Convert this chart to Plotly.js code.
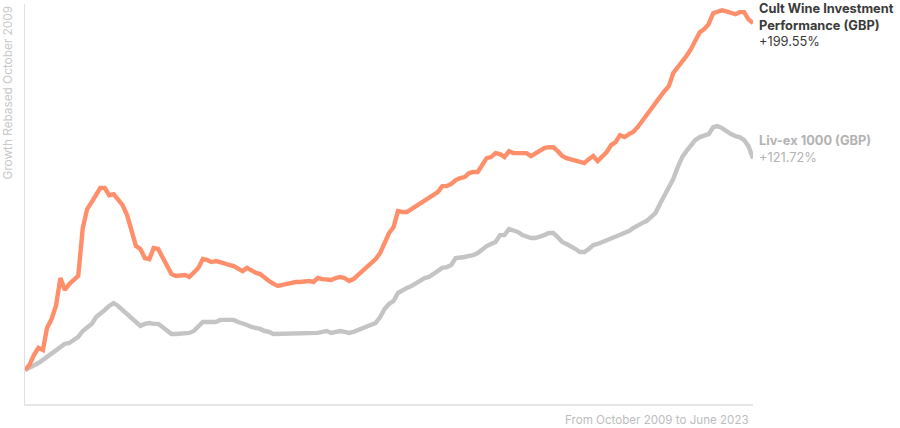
<!DOCTYPE html>
<html>
<head>
<meta charset="utf-8">
<script src="https://cdn.plot.ly/plotly-3.0.1.min.js"></script>
<style>
  html, body { margin: 0; padding: 0; background: #ffffff; }
  #chart { width: 900px; height: 428px; }
</style>
</head>
<body>
<div id="chart"></div>
<script>
// Monthly growth (%) rebased to October 2009 = 0, through June 2023
const startYear = 2009;
const startMonth = 10;

const cultWine = [
  0, 2.9, 8.6, 12.7, 11.5, 24.2, 29.3, 36.8, 52.9, 46.0,
  49.5, 51.8, 54.1, 81.7, 92.6, 96.6, 100.6, 104.7, 104.7, 100.6,
  101.2, 98.3, 94.9, 89.1, 79.4, 71.3, 69.6, 64.4, 63.8, 70.2,
  69.6, 64.4, 59.2, 55.2, 54.1, 54.1, 54.6, 53.5, 55.8, 58.7,
  63.8, 63.3, 62.1, 62.7, 62.1, 61.0, 60.4, 59.8, 58.7, 56.9,
  58.7, 56.9, 55.8, 55.2, 52.9, 51.2, 49.5, 48.3, 48.9, 49.5,
  50.0, 50.6, 50.6, 51.2, 51.2, 50.6, 52.9, 52.3, 52.3, 51.8,
  52.9, 53.5, 52.9, 51.2, 52.3, 54.6, 56.4, 58.7, 61.5, 63.8,
  67.3, 73.6, 78.8, 82.2, 91.4, 90.9, 90.9, 92.6, 94.3, 95.5,
  97.2, 98.9, 101.2, 102.4, 105.8, 105.8, 107.0, 109.3, 110.4, 111.0,
  113.3, 113.9, 113.9, 117.9, 121.9, 122.5, 124.8, 124.2, 122.5, 125.9,
  124.8, 124.8, 124.8, 124.8, 123.1, 124.8, 125.9, 127.7, 128.2, 128.2,
  125.9, 123.1, 121.9, 121.3, 120.8, 120.2, 119.0, 121.3, 123.1, 120.2,
  122.5, 125.4, 129.4, 131.1, 135.1, 134.0, 135.7, 136.9, 139.7, 143.2,
  146.1, 149.5, 153.5, 157.6, 160.4, 163.3, 170.8, 174.2, 177.1, 180.6,
  184.6, 189.8, 194.4, 196.1, 199.0, 205.3, 206.4, 207.0, 206.4, 205.3,
  204.7, 205.9, 205.9, 201.8, 199.55
];

const livex = [
  0, 1.2, 2.3, 4.0, 5.8, 7.5, 9.2, 10.9, 13.2, 15.0,
  15.5, 17.3, 19.0, 22.4, 24.7, 26.5, 30.5, 32.2, 34.5, 36.8,
  38.5, 36.8, 34.5, 31.6, 29.9, 27.0, 25.3, 26.5, 27.0, 26.5,
  26.5, 24.7, 22.4, 20.7, 20.7, 20.7, 21.3, 21.3, 22.4, 24.7,
  27.6, 27.6, 27.6, 27.6, 28.8, 28.8, 28.8, 28.8, 27.6, 27.0,
  25.9, 24.7, 24.2, 23.6, 22.4, 21.9, 20.7, 20.7, 20.7, 20.7,
  20.7, 21.3, 21.3, 21.3, 21.3, 21.3, 21.3, 21.9, 22.4, 21.3,
  21.9, 22.4, 21.9, 21.3, 21.9, 23.0, 24.2, 25.3, 26.5, 27.0,
  30.5, 35.1, 38.0, 39.7, 44.3, 46.0, 47.2, 48.3, 50.0, 51.2,
  52.9, 53.5, 55.2, 56.4, 58.7, 59.2, 60.4, 64.4, 64.4, 65.0,
  65.6, 66.1, 67.3, 69.6, 71.3, 72.5, 73.6, 77.6, 77.6, 81.1,
  80.5, 79.4, 77.6, 76.5, 75.9, 75.9, 76.5, 77.6, 78.8, 78.8,
  76.5, 73.6, 72.5, 71.3, 69.6, 67.9, 67.9, 69.6, 71.9, 72.5,
  73.6, 74.8, 75.3, 76.5, 77.6, 78.8, 79.9, 81.7, 83.4, 84.5,
  85.7, 88.0, 90.3, 95.5, 100.6, 104.7, 109.8, 116.7, 122.5, 125.9,
  129.4, 132.3, 134.0, 135.1, 135.7, 139.7, 140.3, 139.2, 137.4, 135.7,
  134.6, 134.0, 132.3, 128.8, 121.72
];

const seriesNames = ["Cult Wine Investment Performance (GBP)", "Liv-ex 1000 (GBP)"];
const endLabels = ["+199.55%", "+121.72%"];
const yTitle = "Growth Rebased October 2009";
const xTitle = "From October 2009 to June 2023";

function monthDates(n) {
  const out = [];
  for (let i = 0; i < n; i++) {
    const m0 = (startMonth - 1) + i;
    const y = startYear + Math.floor(m0 / 12);
    const m = (m0 % 12) + 1;
    out.push(y + "-" + String(m).padStart(2, "0") + "-01");
  }
  return out;
}
const dates = monthDates(cultWine.length);

const traces = [
  {
    x: dates, y: livex, name: seriesNames[1], type: "scatter", mode: "lines",
    line: { color: "#c4c4c4", width: 4.4 }, hoverinfo: "skip"
  },
  {
    x: dates, y: cultWine, name: seriesNames[0], type: "scatter", mode: "lines",
    line: { color: "#ff8f6b", width: 4.4 }, hoverinfo: "skip"
  }
];

const FONT = "Inter, 'Noto Sans', Roboto, sans-serif";

const layout = {
  width: 900, height: 428,
  margin: { l: 25, r: 147, t: 4, b: 24 },
  paper_bgcolor: "#ffffff",
  plot_bgcolor: "#ffffff",
  showlegend: false,
  font: { family: FONT },
  xaxis: {
    type: "date",
    range: [dates[0], dates[dates.length - 1]],
    showgrid: false, zeroline: false,
    showline: true, linecolor: "#e6e6e6", linewidth: 1.5,
    showticklabels: false, ticks: ""
  },
  yaxis: {
    range: [-19.6, 210.6],
    showgrid: false, zeroline: false,
    showline: true, linecolor: "#e0e0e0", linewidth: 1.5,
    showticklabels: false, ticks: ""
  },
  annotations: [
    {
      xref: "paper", yref: "paper", x: 0, y: 1,
      xanchor: "center", yanchor: "top", xshift: -18, yshift: -1,
      textangle: -90, showarrow: false,
      text: yTitle,
      font: { family: FONT, size: 11.8, color: "#c8c8c8" }
    },
    {
      xref: "paper", yref: "paper", x: 1, y: 0,
      xanchor: "right", yanchor: "top", xshift: -2, yshift: -7,
      showarrow: false,
      text: xTitle,
      font: { family: FONT, size: 11.6, color: "#bdbdbd" }
    },
    {
      xref: "paper", yref: "paper", x: 1, y: 1,
      xanchor: "left", yanchor: "top", xshift: 4, yshift: 5,
      align: "left", showarrow: false,
      text: "<b>Cult Wine Investment<br>Performance (GBP)</b><br>" + endLabels[0],
      font: { family: FONT, size: 12.8, color: "#3a3a3a" }
    },
    {
      xref: "paper", yref: "y", x: 1, y: cultWine[0] + 137.5,
      xanchor: "left", yanchor: "top", xshift: 4,
      align: "left", showarrow: false,
      text: "<b>Liv-ex 1000 (GBP)</b><br>" + endLabels[1],
      font: { family: FONT, size: 12.8, color: "#b3b3b3" }
    }
  ]
};

Plotly.newPlot("chart", traces, layout, { displayModeBar: false, staticPlot: true });
</script>
</body>
</html>
